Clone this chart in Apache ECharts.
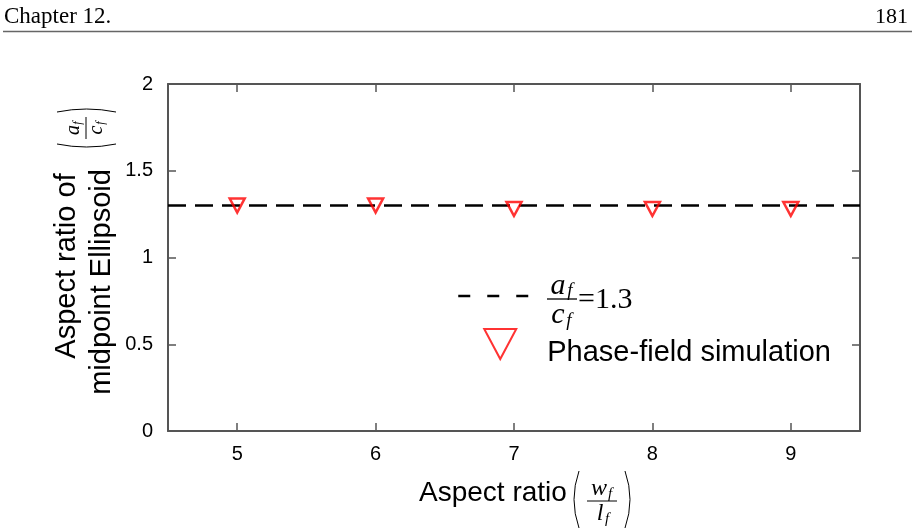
<!DOCTYPE html>
<html>
<head>
<meta charset="utf-8">
<script src="https://cdn.jsdelivr.net/npm/echarts@6/dist/echarts.min.js"></script>
<style>html,body{margin:0;padding:0;background:#fff}#main{width:915px;height:532px}</style>
</head>
<body>
<div id="main"></div>
<script>
// data
var simX = [5, 6, 7, 8, 9];
var simY = [1.30, 1.30, 1.28, 1.28, 1.28];
var fitX = [4.5, 9.5];
var fitY = [1.3, 1.3];
var xTicks = [5, 6, 7, 8, 9];

var SANS = '"Liberation Sans", Arial, sans-serif';
var SERIF = '"Liberation Serif", "Times New Roman", serif';
var FRAME = '#555';

function pairs(xs, ys) {
    var r = [];
    for (var i = 0; i < xs.length; i++) r.push([xs[i], ys[i]]);
    return r;
}
function txt(x, y, s, font, align) {
    return {type: 'text', x: x, y: y, silent: true,
        style: {text: s, font: font, fill: '#000', align: align || 'center', verticalAlign: 'middle'}};
}
function bar(x1, x2, y, w) {
    return {type: 'line', silent: true, shape: {x1: x1, y1: y, x2: x2, y2: y}, style: {stroke: '#000', lineWidth: w || 1}};
}
// thin tall bracket, quadratic curve
function paren(x, top, bot, bulge) {
    return {type: 'bezierCurve', silent: true,
        shape: {x1: x, y1: top, x2: x, y2: bot, cpx1: x + bulge, cpy1: (top + bot) / 2},
        style: {stroke: '#000', lineWidth: 1, fill: null}};
}

var chart = echarts.init(document.getElementById('main'));

//////////////// axes: bottom/left with labels, top/right mirrored ticks
function xAx(pos, labels) {
    return {
        type: 'value', min: 4.5, max: 9.5, position: pos,
        axisLine: {show: true, onZero: false, lineStyle: {color: FRAME, width: 2}},
        axisTick: {show: true, inside: true, length: 8, customValues: xTicks, lineStyle: {color: FRAME, width: 1.5}},
        axisLabel: {show: labels, customValues: xTicks, margin: 13, fontSize: 20, fontFamily: SANS, color: '#000'},
        splitLine: {show: false}
    };
}
function yAx(pos, labels) {
    return {
        type: 'value', min: 0, max: 2, interval: 0.5, position: pos,
        axisLine: {show: true, onZero: false, lineStyle: {color: FRAME, width: 2}},
        axisTick: {show: true, inside: true, length: 8, lineStyle: {color: FRAME, width: 1.5}},
        axisLabel: {show: labels, margin: 15, fontSize: 20, fontFamily: SANS, color: '#000'},
        splitLine: {show: false}
    };
}

var option = {
    backgroundColor: '#fff',
    animation: false,
    grid: {left: 168, right: 55, top: 84, bottom: 101},
    xAxis: [xAx('bottom', true), xAx('top', false)],
    yAxis: [yAx('left', true), yAx('right', false)],
    legend: {
        left: 457, top: 281, orient: 'vertical',
        itemWidth: 84, itemHeight: 30, itemGap: 20, padding: 0,
        selectedMode: false, symbolKeepAspect: true,
        data: [
            {name: 'fit', itemStyle: {opacity: 0}},
            {name: 'Phase-field simulation', icon: 'path://M0,0L32,0L16,30Z'}
        ],
        formatter: function (n) { return n === 'fit' ? '' : '{t|' + n + '}'; },
        lineStyle: {type: [12, 17], width: 2.5, color: '#000'},
        textStyle: {
            fontSize: 29, fontFamily: SANS, color: '#000',
            rich: {t: {fontSize: 29, fontFamily: SANS, color: '#000', lineHeight: 46, verticalAlign: 'bottom'}}
        }
    },
    series: [
        {
            name: 'fit', type: 'line', data: pairs(fitX, fitY),
            symbol: 'none', silent: true, z: 2,
            itemStyle: {color: '#000'},
            lineStyle: {color: '#000', width: 2.5, type: [18, 9]}
        },
        {
            name: 'Phase-field simulation', type: 'scatter', data: pairs(simX, simY),
            symbol: 'triangle', symbolRotate: 180, symbolSize: [15, 14], z: 3,
            itemStyle: {color: 'rgba(255,255,255,0)', borderColor: '#f00', borderWidth: 2.5}
        }
    ],
    graphic: [
        // page header
        txt(4, 17, 'Chapter 12.', '23px ' + SERIF, 'left'),
        txt(908, 17, '181', '22px ' + SERIF, 'right'),
        {type: 'line', silent: true, shape: {x1: 3, y1: 31.5, x2: 912, y2: 31.5}, style: {stroke: '#666', lineWidth: 1.5}},

        // x axis title
        txt(419, 493, 'Aspect ratio', '28px ' + SANS, 'left'),
        {type: 'group', x: 602, y: 500, children: [
            txt(-3, -11, 'w', 'italic 24px ' + SERIF),
            txt(8, -6, 'f', 'italic 15px ' + SERIF),
            bar(-15, 15, 1),
            txt(-2, 14, 'l', 'italic 24px ' + SERIF),
            txt(5, 19, 'f', 'italic 15px ' + SERIF),
            paren(-23, -29, 28, -10),
            paren(23, -29, 28, 10)
        ]},

        // y axis title (rotated)
        {type: 'group', x: 67, y: 266, rotation: Math.PI / 2, children: [
            txt(0, 0, 'Aspect ratio of', '29px ' + SANS)
        ]},
        {type: 'group', x: 102, y: 282, rotation: Math.PI / 2, children: [
            txt(0, 0, 'midpoint Ellipsoid', '29px ' + SANS)
        ]},
        {type: 'group', x: 86, y: 128, rotation: Math.PI / 2, children: [
            txt(-2, -12, 'a', 'italic 20px ' + SERIF),
            txt(5, -8, 'f', 'italic 12px ' + SERIF),
            bar(-11, 11, 0),
            txt(-2, 11, 'c', 'italic 20px ' + SERIF),
            txt(5, 15, 'f', 'italic 12px ' + SERIF),
            paren(-16, -29, 30, -6),
            paren(16, -29, 30, 6)
        ]},

        // legend label for the dashed line
        {type: 'group', x: 562, y: 299, children: [
            txt(-4, -13, 'a', 'italic 30px ' + SERIF),
            txt(8, -8, 'f', 'italic 19px ' + SERIF),
            bar(-15, 15, 0, 1.3),
            txt(-4, 16, 'c', 'italic 30px ' + SERIF),
            txt(7, 22, 'f', 'italic 19px ' + SERIF),
            txt(16, 1, '=1.3', '30px ' + SERIF, 'left')
        ]}
    ]
};
chart.setOption(option);
</script>
</body>
</html>
